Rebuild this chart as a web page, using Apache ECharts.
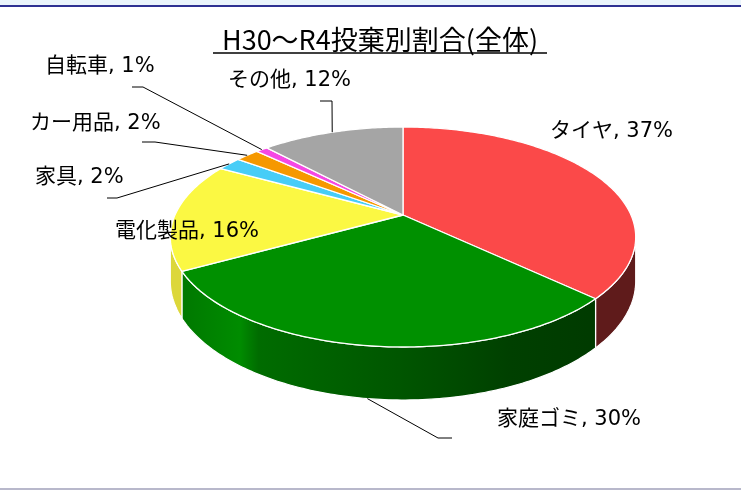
<!DOCTYPE html>
<html lang="ja">
<head>
  <meta charset="UTF-8" />
  <title>H30～R4投棄別割合(全体)</title>
  <script src="https://cdn.jsdelivr.net/npm/echarts@6.0.0/dist/echarts.min.js"></script>
  <style>
    html, body { margin: 0; padding: 0; background: #fff; }
    #main { width: 741px; height: 490px; }
  </style>
</head>
<body>
  <div id="main"></div>
<script>
  // データ
  var categories = ["タイヤ", "家庭ゴミ", "電化製品", "家具", "カー用品", "自転車", "その他"];
  var shares = [37, 30, 16, 2, 2, 1, 12];

  // 色
  var topColors = ["#fb4949", "#009000", "#fbf843", "#47cdf7", "#f69800", "#f548e4", "#a5a5a5"];
  var sideColors = ["#5f1b1b", "green", "#dcd73a", "#2e9bbd", "#b06c00", "#b0309f", "#707070"];
  var greenSide = [
    { offset: 0, color: "#007400" },
    { offset: 0.15, color: "#008c00" },
    { offset: 0.19, color: "#006c00" },
    { offset: 0.49, color: "#005600" },
    { offset: 0.73, color: "#004000" },
    { offset: 1, color: "#003800" }
  ];

  // ラベル位置 (左端, 中心y, 引出線の折れ点)
  var labelLayout = [
    { x: 550, y: 132 },
    { x: 497, y: 420, leader: [[452, 438], [438, 438]] },
    { x: 115, y: 232 },
    { x: 35, y: 178, leader: [[107, 198], [117, 198]] },
    { x: 30, y: 124, leader: [[142, 142], [155, 142]] },
    { x: 45, y: 67, leader: [[132, 87], [143, 87]] },
    { x: 228, y: 81, leader: [[320, 101], [332, 101]] }
  ];

  // 3D円の投影パラメータ
  var pie = { cx: 403, cy: 215, a: 228, b: 105.6, k: 0.2, depth: 42.4 };
  var labelFont = "21px 'DejaVu Sans', 'Noto Sans CJK JP', sans-serif";

  var total = shares.reduce(function (s, v) { return s + v; }, 0);
  var startAng = [];
  var acc = 0;
  shares.forEach(function (v) {
    startAng.push(acc / total * Math.PI * 2);
    acc += v;
  });

  // 角度(12時から時計回り) -> 画面座標
  function rim(t) {
    var u = Math.sin(t), w = Math.cos(t), d = 1 + pie.k * w;
    return [pie.cx + pie.a * u / d, pie.cy - pie.b * w / d, pie.depth / d];
  }

  var wallLo = Math.acos(-pie.k);
  var wallHi = Math.PI * 2 - wallLo;

  function arcPts(a0, a1, down) {
    var n = Math.max(2, Math.ceil((a1 - a0) / 0.015));
    var pts = [];
    for (var j = 0; j <= n; j++) {
      var p = rim(a0 + (a1 - a0) * j / n);
      pts.push(down ? [p[0], p[1] + p[2]] : [p[0], p[1]]);
    }
    return pts;
  }

  function renderItem(params, api) {
    var i = params.dataIndex;
    var v = api.value(0);
    var a0 = startAng[i];
    var a1 = a0 + v / total * Math.PI * 2;
    var children = [];

    // 上面
    var topPts = [[pie.cx, pie.cy]].concat(arcPts(a0, a1, false));
    children.push({
      type: "polygon",
      shape: { points: topPts },
      style: { fill: topColors[i], stroke: "#fff", lineWidth: 1.3, lineJoin: "round" },
      z2: 10
    });

    // 側面
    var w0 = Math.max(a0, wallLo), w1 = Math.min(a1, wallHi);
    if (w1 > w0) {
      var wallPts = arcPts(w0, w1, false).concat(arcPts(w0, w1, true).reverse());
      var fill = sideColors[i];
      if (i === 1) {
        fill = new echarts.graphic.LinearGradient(170, 0, 636, 0, greenSide, true);
      }
      children.push({
        type: "polygon",
        shape: { points: wallPts },
        style: { fill: fill, stroke: "#fff", lineWidth: 1.2 },
        z2: 2
      });
    }

    // ラベル
    var lay = labelLayout[i];
    children.push({
      type: "text",
      style: {
        text: categories[i] + ", " + v + "%",
        x: lay.x,
        y: lay.y,
        font: labelFont,
        fill: "#000",
        verticalAlign: "middle"
      },
      z2: 30
    });
    if (lay.leader) {
      var mid = (a0 + a1) / 2;
      var p = rim(mid);
      var end = [p[0], p[1]];
      if (mid > wallLo && mid < wallHi) end = [p[0], p[1] + p[2]];
      children.push({
        type: "polyline",
        shape: { points: lay.leader.concat([end]) },
        style: { stroke: "#000", lineWidth: 1, fill: null },
        z2: 30
      });
    }

    return { type: "group", children: children };
  }

  var myChart = echarts.init(document.getElementById("main"));

  var option = {
    backgroundColor: "#fff",
    animation: false,
    graphic: [
      { type: "rect", shape: { x: 0, y: 0, width: 741, height: 5 }, style: { fill: "#eaf4fb" } },
      { type: "rect", shape: { x: 0, y: 5, width: 741, height: 2 }, style: { fill: "#2e3192" } },
      { type: "rect", shape: { x: 0, y: 488, width: 741, height: 2 }, style: { fill: "#b8b8cb" } },
      {
        type: "text",
        style: {
          text: "H30～R4投棄別割合(全体)",
          x: 380,
          y: 40,
          font: "27px 'Noto Sans CJK JP', sans-serif",
          fill: "#000",
          align: "center",
          verticalAlign: "middle"
        }
      },
      { type: "line", shape: { x1: 213, y1: 53, x2: 547, y2: 53 }, style: { stroke: "#000", lineWidth: 1.5 } }
    ],
    series: [
      {
        type: "custom",
        coordinateSystem: "none",
        renderItem: renderItem,
        data: shares
      }
    ]
  };

  myChart.setOption(option);
</script>
</body>
</html>
